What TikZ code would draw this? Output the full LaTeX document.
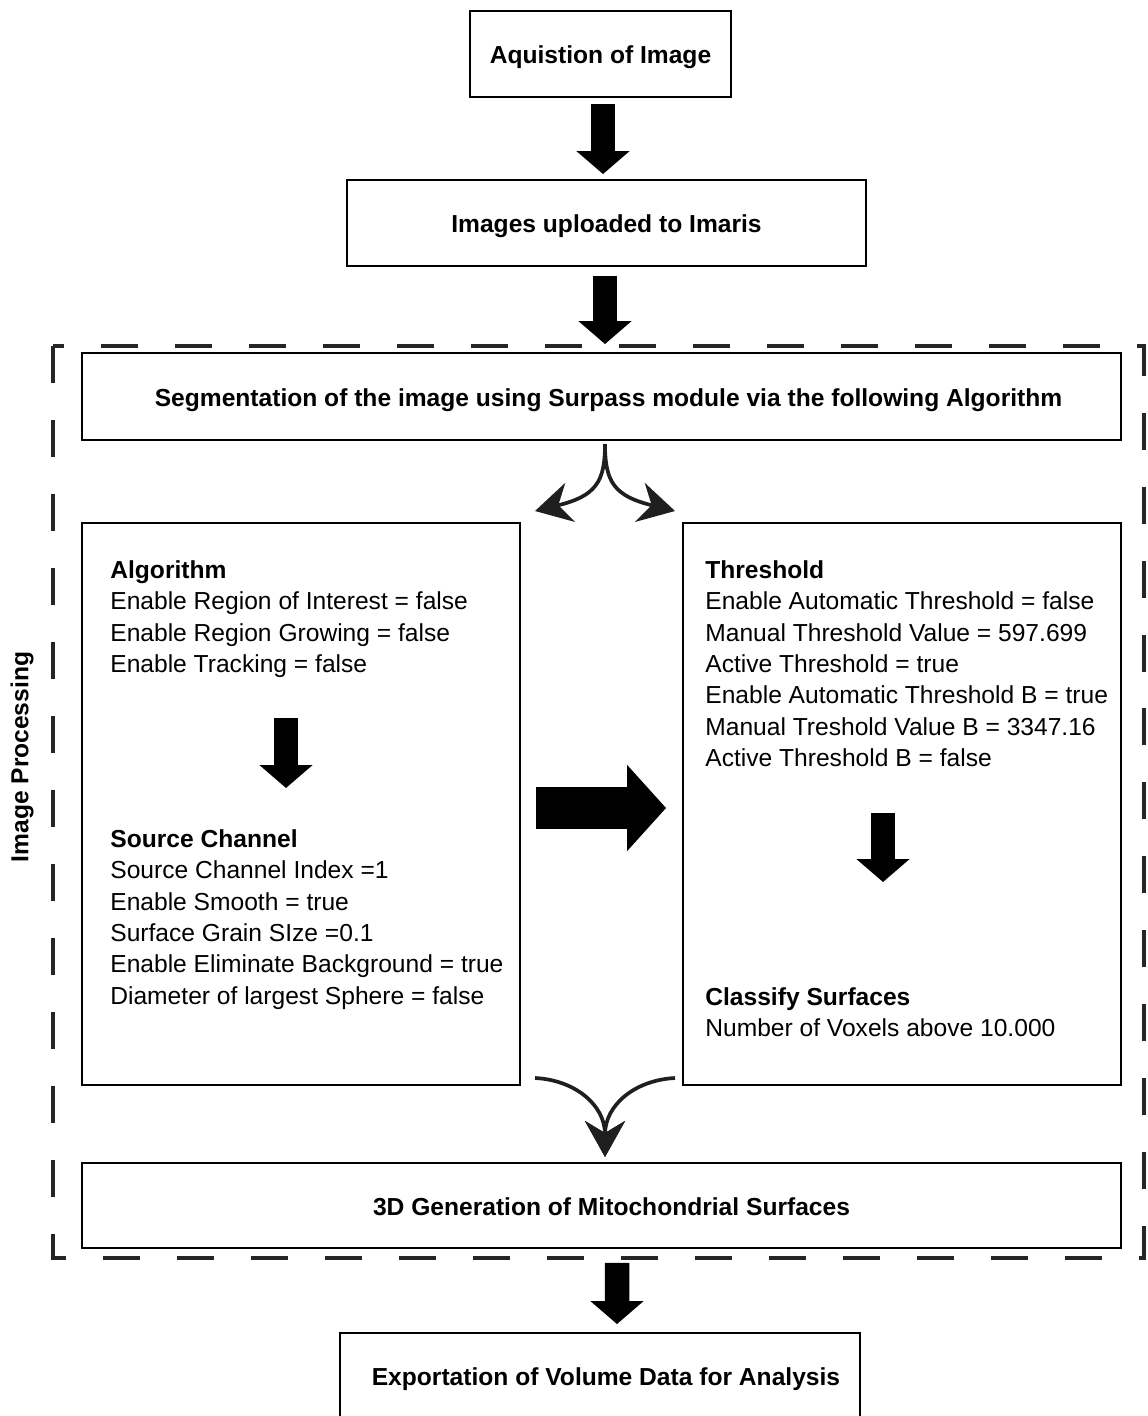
\documentclass[tikz,border=0pt]{standalone}
\usepackage{fontspec}
\setmainfont{Liberation Sans}
\usetikzlibrary{positioning,arrows.meta}
\newcommand{\flowfont}{\fontsize{14}{17.9}\selectfont}
\tikzset{
  procbox/.style={draw, line width=1.1pt, minimum height=1.72cm, align=center, text height=0.38cm, text depth=0cm, font=\flowfont\bfseries},
  panel/.style={draw, line width=1.1pt, minimum width=8.76cm, minimum height=11.24cm},
  listtext/.style={align=left, inner sep=0pt, anchor=north west, font=\flowfont},
  blockarrow/.style={-{Triangle[length=0.46cm, width=1.04cm]}, line width=0.49cm},
  bigarrow/.style={-{Triangle[length=0.78cm, width=1.68cm]}, line width=0.84cm},
  curvearrow/.style={-{Stealth[length=0.72cm, width=0.8cm, inset=0.24cm]}, line width=2.1pt, black!88},
  groupframe/.style={line width=2.2pt, black!85, dash pattern=on 0.74cm off 0.74cm}
}

\begin{document}
\begin{tikzpicture}[x=0.02cm, y=-0.02cm]
  \useasboundingbox (0,0) rectangle (1147,1416);
  % main steps
  \node[procbox, minimum width=5.22cm] (acq) at (600.5,54) {Aquistion of Image};
  \node[procbox, minimum width=10.38cm] (upload) at (606.5,223) {Images uploaded to Imaris};
  \node[procbox, minimum width=20.78cm, minimum height=1.74cm] (seg) at (601.5,396.5) {\hspace*{0.28cm}Segmentation of the image using Surpass module via the following Algorithm};
  \node[panel] (lpanel) at (301,804) {};
  \node[panel] (rpanel) at (902,804) {};
  \node[procbox, minimum width=20.78cm, minimum height=1.70cm] (gen) at (601.5,1205.5) {\hspace*{0.4cm}3D Generation of Mitochondrial Surfaces};
  \node[procbox, minimum width=10.4cm] (export) at (600,1376) {\hspace*{0.24cm}Exportation of Volume Data for Analysis};
  % image processing frame
  \draw[groupframe] (53,346) rectangle (1144,1258);
  \node[rotate=90, font=\flowfont\bfseries] (imgproc) at (22,757) {Image Processing};
  % panel texts
  \node[listtext] (algo) at (110,560) {\textbf{Algorithm}\\Enable Region of Interest = false\\Enable Region Growing = false\\Enable Tracking = false};
  \node[listtext] (source) at (110,829) {\textbf{Source Channel}\\Source Channel Index =1\\Enable Smooth = true\\Surface Grain SIze =0.1\\Enable Eliminate Background = true\\Diameter of largest Sphere = false};
  \node[listtext] (thresh) at (705,560) {\textbf{Threshold}\\Enable Automatic Threshold = false\\Manual Threshold Value = 597.699\\Active Threshold = true\\Enable Automatic Threshold B = true\\Manual Treshold Value B = 3347.16\\Active Threshold B = false};
  \node[listtext] (classify) at (705,987) {\textbf{Classify Surfaces}\\Number of Voxels above 10.000};
  % arrow ends inside the panels
  \coordinate (lin1) at (286,718);
  \coordinate (lin2) at (286,788);
  \coordinate (rin1) at (883,813);
  \coordinate (rin2) at (883,882);
  \coordinate (split) at (605,444);
  \coordinate (splitL) at (535,511);
  \coordinate (splitR) at (675,511);
  \coordinate (joinL) at (535,1078);
  \coordinate (joinR) at (675,1078);
  \coordinate (join) at (605,1157);
  % connectors
  \draw[blockarrow] ([xshift=0.05cm,yshift=-0.12cm]acq.south) -- ([xshift=0.05cm,yshift=0.1cm]acq.south |- upload.north);
  \draw[blockarrow] ([xshift=-0.03cm,yshift=-0.18cm]upload.south) -- ([xshift=-0.03cm,yshift=0.16cm]upload.south |- seg.north);
  \draw[curvearrow] (split) .. controls (605,482) and (596,496) .. (splitL);
  \draw[curvearrow] (split) .. controls (605,482) and (614,496) .. (splitR);
  \draw[blockarrow] (lin1) -- (lin2);
  \draw[bigarrow] ([xshift=0.3cm,yshift=-0.08cm]lpanel.east) -- ([xshift=-0.32cm,yshift=-0.08cm]rpanel.west);
  \draw[blockarrow] (rin1) -- (rin2);
  \draw[curvearrow] (joinL) .. controls (575,1080) and (605,1105) .. (join);
  \draw[curvearrow] (joinR) .. controls (635,1080) and (605,1105) .. (join);
  \draw[blockarrow] ([xshift=0.31cm,yshift=-0.28cm]gen.south) -- ([xshift=0.34cm,yshift=0.16cm]export.north);
\end{tikzpicture}
\end{document}
